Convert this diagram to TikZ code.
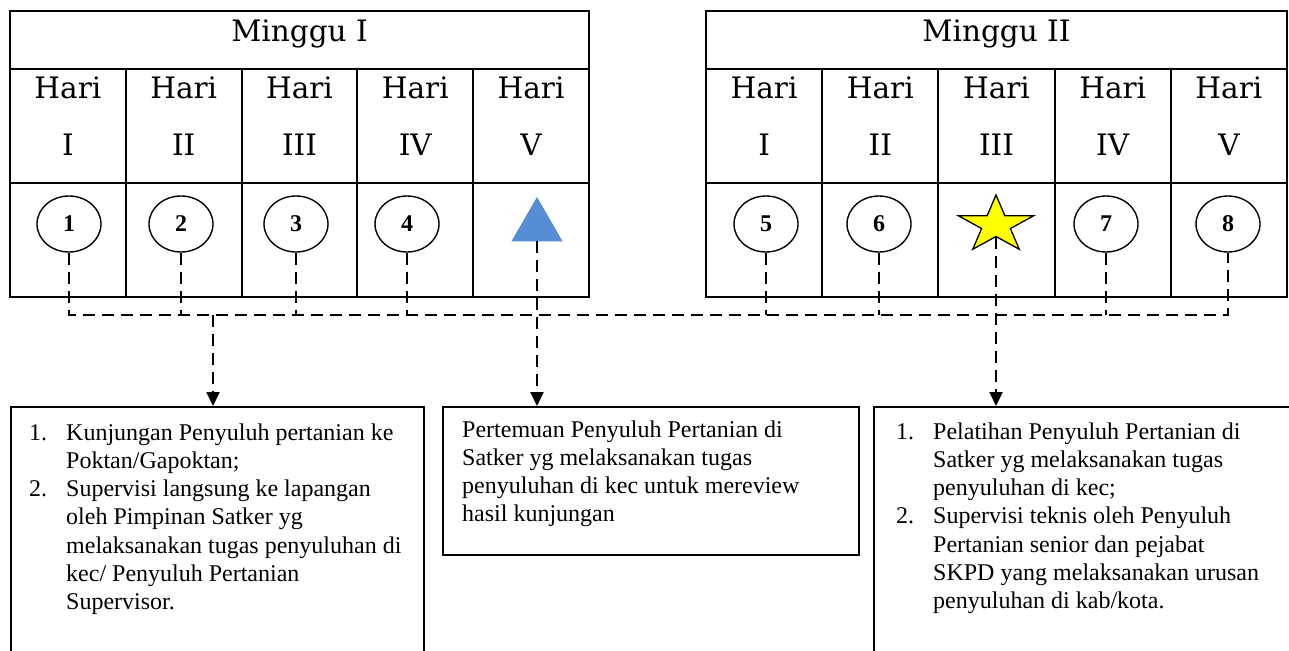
\documentclass[tikz,border=0pt]{standalone}
\usepackage{fontspec}
\setmainfont{Liberation Serif}
\newfontfamily\hdrfont{DejaVu Serif}
\usetikzlibrary{shapes.geometric, arrows.meta}
\definecolor{triblue}{RGB}{85,142,213}
\definecolor{staryellow}{RGB}{255,255,0}
\begin{document}
\begin{tikzpicture}[x=1pt, y=-1pt,
  grid/.style={line width=2pt},
  hdr/.style={font=\hdrfont\fontsize{29.5}{35}\selectfont, anchor=base, inner sep=0},
  daycircle/.style={ellipse, draw, line width=1.4pt, minimum width=64pt, minimum height=56pt, inner sep=0, font=\bfseries\fontsize{24}{28}\selectfont},
  dl/.style={line width=2.2pt, dash pattern=on 12pt off 7pt},
  arr/.style={-{Triangle[width=13pt,length=14pt]}},
  infobox/.style={draw, line width=2pt, anchor=north west, inner sep=0},
  body/.style={font=\fontsize{24}{28.3}\selectfont, anchor=base west, inner sep=0}
]
\useasboundingbox (0,0) rectangle (1289,650);
\clip (0,0) rectangle (1289,650);

% ---- table Minggu I
\draw[grid] (10,11) rectangle (589,297);
\draw[grid] (10,69) -- (589,69) (10,183) -- (589,183);
\foreach \x in {125.8,241.6,357.4,473.2} \draw[grid] (\x,69) -- (\x,297);
\node[hdr] (w1) at (299.5,42) {Minggu I};
\foreach \n/\x/\r in {1/67.9/I, 2/183.7/II, 3/299.5/III, 4/415.3/IV, 5/531.1/V}{
  \node[hdr] (da\n) at (\x,99) {Hari};
  \node[hdr] (ra\n) at (\x,155) {\r};
}

% ---- table Minggu II
\draw[grid] (706,11) rectangle (1287,297);
\draw[grid] (706,69) -- (1287,69) (706,183) -- (1287,183);
\foreach \x in {822.2,938.4,1054.6,1170.8} \draw[grid] (\x,69) -- (\x,297);
\node[hdr] (w2) at (996.5,42) {Minggu II};
\foreach \n/\x/\r in {1/764.1/I, 2/880.3/II, 3/996.5/III, 4/1112.7/IV, 5/1228.9/V}{
  \node[hdr] (db\n) at (\x,99) {Hari};
  \node[hdr] (rb\n) at (\x,155) {\r};
}

% ---- markers
\foreach \n/\x in {1/69, 2/181, 3/296, 4/407, 5/766, 6/879, 7/1106, 8/1228}{
  \node[daycircle] (c\n) at (\x,224) {\raisebox{-3pt}{\n}};
}
\node[regular polygon, regular polygon sides=3, fill=triblue, minimum size=59pt, inner sep=0] (tri) at (537,226.5) {};
\begin{scope}[shift={(996,225)}, xscale=1.32]
  \node[star, star points=5, star point ratio=2.618, draw, line width=1.3pt, fill=staryellow, minimum size=60pt, inner sep=0, transform shape] (star) at (0,0) {};
\end{scope}

% ---- boxes
\node[infobox, minimum width=413pt, minimum height=270pt] (box1) at (10,406) {};
\node[infobox, minimum width=416pt, minimum height=148pt] (box2) at (442,406) {};
\node[infobox, minimum width=440pt, minimum height=270pt] (box3) at (873,406) {};

\node[body] (t1) at (29,440) {\begin{tabular}[t]{@{}p{37pt}@{}l@{}}
1. & Kunjungan Penyuluh pertanian ke\\
   & Poktan/Gapoktan;\\
2. & Supervisi langsung ke lapangan\\
   & oleh Pimpinan Satker yg\\
   & melaksanakan tugas penyuluhan di\\
   & kec/ Penyuluh Pertanian\\
   & Supervisor.
\end{tabular}};
\node[body] (t2) at (462,437) {\begin{tabular}[t]{@{}l@{}}
Pertemuan Penyuluh Pertanian di\\
Satker yg melaksanakan tugas\\
penyuluhan di kec untuk mereview\\
hasil kunjungan
\end{tabular}};
\node[body] (t3) at (896,439) {\begin{tabular}[t]{@{}p{37pt}@{}l@{}}
1. & Pelatihan Penyuluh Pertanian di\\
   & Satker yg melaksanakan tugas\\
   & penyuluhan di kec;\\
2. & Supervisi teknis oleh Penyuluh\\
   & Pertanian senior dan pejabat\\
   & SKPD yang melaksanakan urusan\\
   & penyuluhan di kab/kota.
\end{tabular}};

% ---- connectors
\coordinate (hl) at (0,315);
\draw[dl] (c1.south) |- (c8.south |- hl) -- (c8.south);
\foreach \n in {2,3,4,5,6,7}{
  \draw[dl] (c\n.south) -- (c\n.south |- hl);
}
\coordinate (j1) at (213,315);
\draw[dl,arr] (j1) -- (j1 |- box1.north);
\draw[dl,arr] (tri.side 2) -- (tri.side 2 |- box2.north);
\draw[dl,arr] (star.inner point 3) -- (star.inner point 3 |- box3.north);
\end{tikzpicture}
\end{document}
